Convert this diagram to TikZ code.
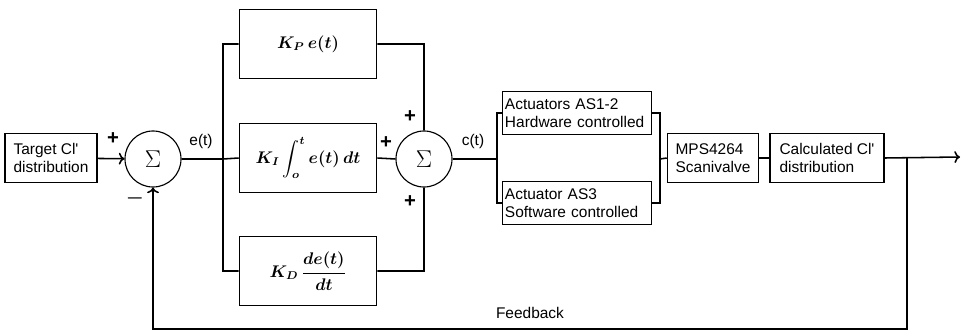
\documentclass[tikz,border=0pt]{standalone}
\usepackage{fontspec}
\setmainfont{Liberation Sans}
\usepackage{amsmath}
\usetikzlibrary{arrows.meta}
\tikzset{
  blk/.style={draw, line width=1.1pt, align=left, font=\fontsize{11}{12.5}\selectfont},
  actbox/.style={blk, inner xsep=0.06cm, inner ysep=0.1cm, text width=3.6cm, minimum height=1.075cm},
  gain/.style={draw, line width=1.1pt, minimum width=3.425cm, minimum height=1.725cm, font=\large\boldmath},
  sumnode/.style={draw, circle, line width=0.8pt, minimum size=1.4cm, inner sep=0pt, font=\LARGE},
  sig/.style={font=\fontsize{11}{12}\selectfont},
  pm/.style={font=\Large\bfseries},
  wire/.style={line width=1.1pt},
}
\begin{document}
\begin{tikzpicture}[x=0.025cm, y=-0.025cm]
      \useasboundingbox (0, 0) rectangle (961, 335);
      % blocks
      \node (target) [blk, minimum width=2.3cm, minimum height=1.225cm] at (51, 158) {Target Cl\textquotesingle\\distribution};
      \node (sumA) [sumnode] at (153, 159) {$\Sigma$};
      \node (kp) [gain] at (308, 44) {$K_P\,e(t)$};
      \node (ki) [gain] at (308, 158) {$K_I\displaystyle\int_o^t e(t)\,dt$};
      \node (kd) [gain] at (308, 271) {$K_D\,\dfrac{de(t)}{dt}$};
      \node (sumB) [sumnode] at (424, 159) {$\Sigma$};
      \node (hw) [actbox] at (577, 113) {Actuators AS1-2\\Hardware controlled};
      \node (sw) [actbox] at (577, 203) {Actuator AS3\\Software controlled};
      \node (mps) [blk, minimum width=2.275cm, minimum height=1.225cm] at (713, 158) {MPS4264\\Scanivalve};
      \node (calc) [blk, minimum width=2.85cm, minimum height=1.225cm] at (827, 158) {Calculated Cl\textquotesingle\\distribution};
      % junctions
      \coordinate (split) at (223, 159);
      \coordinate (actin) at (497, 159);
      \coordinate (actout) at (660, 159);
      \coordinate (tap) at (907, 157);
      \coordinate (out) at (960, 157);
      \coordinate (fbcorner) at (907, 329);
      % wires
      \draw[wire, ->] (target) -- (sumA);
      \draw[wire] (sumA) -- (split) |- (kp.west)
                  (split) -- (ki.west)
                  (split) |- (kd.west);
      \draw[wire] (kp.east) -| (sumB.north)
                  (ki.east) -- (sumB.west)
                  (kd.east) -| (sumB.south);
      \draw[wire] (sumB) -- (actin) |- (hw.west)
                  (actin) |- (sw.west);
      \draw[wire] (hw.east) -| (actout)
                  (sw.east) -| (actout) -- (mps.west);
      \draw[wire] (mps) -- (calc);
      \draw[wire, ->] (calc.east) -- (out);
      \draw[wire, ->] (tap) -- (fbcorner) -| (sumA.south);
      % labels
      \node (plusA) [pm] at (113, 139) {+};
      \node (minusA) [pm] at (135, 198) {$\boldsymbol{-}$};
      \node (elab) [sig] at (201, 141) {e(t)};
      \node (plusP) [pm] at (410, 117) {+};
      \node (plusI) [pm] at (386, 143) {+};
      \node (plusD) [pm] at (410, 202) {+};
      \node (clab) [sig] at (473, 141) {c(t)};
      \node (fblab) [sig] at (530, 313) {Feedback};
\end{tikzpicture}
\end{document}
